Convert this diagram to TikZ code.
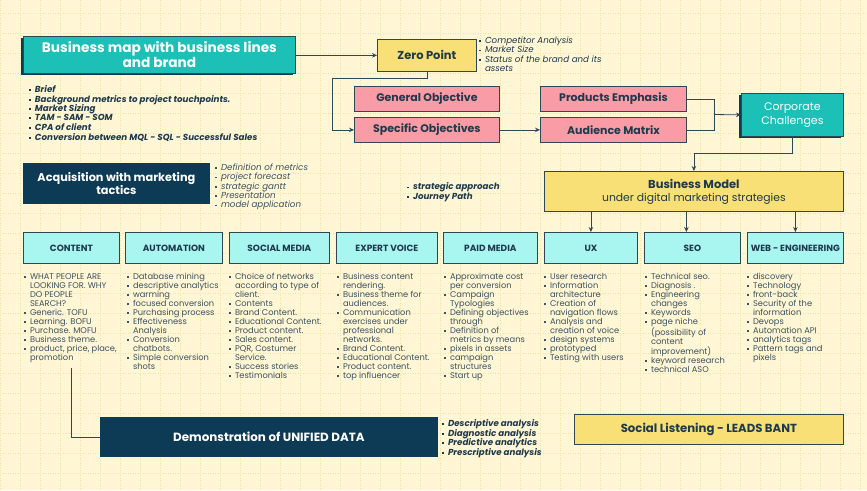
\documentclass[tikz,border=0pt]{standalone}
\usepackage{fontspec}
\setmainfont{Poppins}
\usetikzlibrary{arrows.meta,shadows}
\definecolor{bg}{HTML}{FFF6D6}
\definecolor{gridc}{HTML}{F2E1A4}
\definecolor{tealbox}{HTML}{1CC0B6}
\definecolor{navy}{HTML}{0D3A55}
\definecolor{ink}{HTML}{1E3A4C}
\definecolor{txt}{HTML}{3B5260}
\definecolor{yel}{HTML}{F8DF76}
\definecolor{pinkbox}{HTML}{F99CA6}
\definecolor{cyanbox}{HTML}{A9F6F1}
\definecolor{edge}{HTML}{2F4653}
\newcommand\bul{\raisebox{1.5pt}{\rule{1.8pt}{1.8pt}}}
\newcommand\lsize{\fontsize{8.3}{9}\selectfont}
\newcommand\msize{\fontsize{8.7}{9}\selectfont}
\tikzset{
  box/.style={draw=edge, line width=0.8pt, inner sep=0pt, align=center, text=ink, anchor=north west},
  tealnode/.style={box, fill=tealbox, text=white, drop shadow={shadow xshift=-2pt, shadow yshift=-2pt, fill=navy, opacity=1}},
  navynode/.style={box, fill=navy, draw=navy, text=white, font=\bfseries\fontsize{11.5}{13}\selectfont},
  yelnode/.style={box, fill=yel, font=\bfseries\fontsize{11.5}{13}\selectfont},
  pinknode/.style={box, fill=pinkbox, font=\bfseries\fontsize{11}{12}\selectfont},
  colnode/.style={box, fill=cyanbox, font=\bfseries\fontsize{9}{10}\selectfont, minimum height=31pt},
  list/.style={anchor=north west, inner sep=0pt, text=txt, font=\lsize, align=left},
  conn/.style={draw=edge, line width=0.8pt},
  arr/.style={conn, -{Stealth[length=5pt,width=4.5pt]}}
}
\begin{document}
\begin{tikzpicture}[x=1pt,y=-1pt]
\useasboundingbox (0,0) rectangle (867,490);
\fill[bg] (0,0) rectangle (867,490);
\foreach \x in {0,20,...,860} \draw[gridc, dotted, line width=0.5pt] (\x,0) -- (\x,490);
\foreach \y in {13,33,...,490} \draw[gridc, dotted, line width=0.5pt] (0,\y) -- (867,\y);

% top boxes
\node[tealnode, minimum width=272pt, minimum height=37pt, font=\bfseries\fontsize{13.7}{15}\selectfont] (bmap) at (23,36) {Business map with business lines\\and brand};
\node[yelnode, minimum width=99pt, minimum height=32pt] (zp) at (377,39) {Zero Point};
\node[pinknode, minimum width=145pt, minimum height=25pt] (go) at (354,86) {General Objective};
\node[pinknode, minimum width=145pt, minimum height=25pt] (so) at (354,117) {Specific Objectives};
\node[pinknode, minimum width=146pt, minimum height=25pt] (pe) at (540,86) {Products Emphasis};
\node[pinknode, minimum width=146pt, minimum height=25pt] (am) at (540,117) {Audience Matrix};
\node[tealnode, minimum width=102pt, minimum height=43pt, font=\fontsize{11}{14}\selectfont] (cc) at (741,93) {Corporate\\Challenges};
\node[navynode, minimum width=186pt, minimum height=40pt, font=\bfseries\fontsize{11.3}{13.5}\selectfont] (acq) at (23,163) {Acquisition with marketing\\tactics};
\node[yelnode, minimum width=299pt, minimum height=40pt] (bmod) at (544,171) {Business Model\\[0pt]{\mdseries\fontsize{10.8}{12}\selectfont under digital marketing strategies}};

% column headers
\node[colnode, minimum width=96pt] (c1) at (23,232) {CONTENT};
\node[colnode, minimum width=97pt] (c2) at (125,232) {AUTOMATION};
\node[colnode, minimum width=100pt] (c3) at (229,232) {SOCIAL MEDIA};
\node[colnode, minimum width=101pt] (c4) at (336,232) {EXPERT VOICE};
\node[colnode, minimum width=94pt] (c5) at (443,232) {PAID MEDIA};
\node[colnode, minimum width=93pt] (c6) at (544,232) {UX};
\node[colnode, minimum width=96pt] (c7) at (644,232) {SEO};
\node[colnode, minimum width=96pt] (c8) at (747,232) {WEB - ENGINEERING};

% bottom boxes
\node[navynode, minimum width=337pt, minimum height=39pt, font=\bfseries\fontsize{11.9}{13}\selectfont] (demo) at (100,417) {Demonstration of UNIFIED DATA};
\node[yelnode, minimum width=269pt, minimum height=30pt, font=\bfseries\fontsize{11.7}{13}\selectfont] (sl) at (574,414) {Social Listening - LEADS BANT};

% bullet lists
\node[list, text=ink, font=\msize\bfseries\itshape] (l0) at (29,85.2) {\begin{tabular}{@{}l@{\hspace{4pt}}l@{}}
\bul & Brief\\ \bul & Background metrics to project touchpoints.\\ \bul & Market Sizing\\ \bul & TAM - SAM - SOM\\ \bul & CPA of client\\ \bul & Conversion between MQL - SQL - Successful Sales\end{tabular}};
\node[list, text=ink, font=\msize\itshape] (lzp) at (479,36.8) {\begin{tabular}{@{}l@{\hspace{4pt}}l@{}}
\bul & Competitor Analysis\\ \bul & Market Size\\ \bul & Status of the brand and its\\ & assets\end{tabular}};
\node[list, font=\msize\itshape] (lacq) at (215,163.7) {\begin{tabular}{@{}l@{\hspace{4pt}}l@{}}
\bul & Definition of metrics\\ \bul & project forecast\\ \bul & strategic gantt\\ \bul & Presentation\\ \bul & model application\end{tabular}};
\node[list, text=ink, font=\msize\bfseries\itshape] (lsa) at (407,182.7) {\begin{tabular}{@{}l@{\hspace{4pt}}l@{}}
\bul & strategic approach\\ \bul & Journey Path\end{tabular}};
\node[list, text=ink, font=\msize\bfseries\itshape] (ldemo) at (442,419.2) {\begin{tabular}{@{}l@{\hspace{4pt}}l@{}}
\bul & Descriptive analysis\\ \bul & Diagnostic analysis\\ \bul & Predictive analytics\\ \bul & Prescriptive analysis\end{tabular}};

% column lists
\node[list] (t1) at (24,273) {\begin{tabular}{@{}l@{\hspace{4pt}}l@{}}
\bul & WHAT PEOPLE ARE\\ & LOOKING FOR. WHY\\ & DO PEOPLE\\ & SEARCH?\\ \bul & Generic. TOFU\\ \bul & Learning. BOFU\\ \bul & Purchase. MOFU\\ \bul & Business theme.\\ \bul & product, price, place,\\ & promotion\end{tabular}};
\node[list] (t2) at (127,273) {\begin{tabular}{@{}l@{\hspace{4pt}}l@{}}
\bul & Database mining\\ \bul & descriptive analytics\\ \bul & warming\\ \bul & focused conversion\\ \bul & Purchasing process\\ \bul & Effectiveness\\ & Analysis\\ \bul & Conversion\\ & chatbots.\\ \bul & Simple conversion\\ & shots\end{tabular}};
\node[list] (t3) at (229,273) {\begin{tabular}{@{}l@{\hspace{4pt}}l@{}}
\bul & Choice of networks\\ & according to type of\\ & client.\\ \bul & Contents\\ \bul & Brand Content.\\ \bul & Educational Content.\\ \bul & Product content.\\ \bul & Sales content.\\ \bul & PQR, Costumer\\ & Service.\\ \bul & Success stories\\ \bul & Testimonials\end{tabular}};
\node[list] (t4) at (337,273) {\begin{tabular}{@{}l@{\hspace{4pt}}l@{}}
\bul & Business content\\ & rendering.\\ \bul & Business theme for\\ & audiences.\\ \bul & Communication\\ & exercises under\\ & professional\\ & networks.\\ \bul & Brand Content.\\ \bul & Educational Content.\\ \bul & Product content.\\ \bul & top influencer\end{tabular}};
\node[list] (t5) at (444,273) {\begin{tabular}{@{}l@{\hspace{4pt}}l@{}}
\bul & Approximate cost\\ & per conversion\\ \bul & Campaign\\ & Typologies\\ \bul & Defining objectives\\ & through\\ \bul & Definition of\\ & metrics by means\\ \bul & pixels in assets\\ \bul & campaign\\ & structures\\ \bul & Start up\end{tabular}};
\node[list] (t6) at (544,273) {\begin{tabular}{@{}l@{\hspace{4pt}}l@{}}
\bul & User research\\ \bul & Information\\ & architecture\\ \bul & Creation of\\ & navigation flows\\ \bul & Analysis and\\ & creation of voice\\ \bul & design systems\\ \bul & prototyped\\ \bul & Testing with users\end{tabular}};
\node[list] (t7) at (645,273) {\begin{tabular}{@{}l@{\hspace{4pt}}l@{}}
\bul & Technical seo.\\ \bul & Diagnosis .\\ \bul & Engineering\\ & changes\\ \bul & Keywords\\ \bul & page niche\\ & (possibility of\\ & content\\ & improvement)\\ \bul & keyword research\\ \bul & technical ASO\end{tabular}};
\node[list] (t8) at (747,273) {\begin{tabular}{@{}l@{\hspace{4pt}}l@{}}
\bul & discovery\\ \bul & Technology\\ \bul & front-back\\ \bul & Security of the\\ & information\\ \bul & Devops\\ \bul & Automation API\\ \bul & analytics tags\\ \bul & Pattern tags and\\ & pixels\end{tabular}};

% connectors
\draw[arr] (bmap.east |- zp.west) -- (zp.west);
\draw[arr] (zp.south) -- ++(0,7) -| ([xshift=-22pt]so.west) -- (so.west);
\draw[arr] (so.east) -- (am.west);
\coordinate (j) at (714,114.5);
\draw[conn] (pe.east) -| (j);
\draw[conn] (am.east) -| (j);
\draw[arr] (j) -- (cc.west);
\draw[arr] (cc.south) -- ++(0,17) -| (bmod.north);
\draw[arr] (c6.north |- bmod.south) -- (c6.north);
\draw[arr] ([xshift=-6pt]c7.north |- bmod.south) -- ([xshift=-6pt]c7.north);
\draw[arr] (c8.north |- bmod.south) -- (c8.north);
\coordinate (c0) at (71,368);
\draw[conn] (c0) |- (demo.west);
\end{tikzpicture}
\end{document}
